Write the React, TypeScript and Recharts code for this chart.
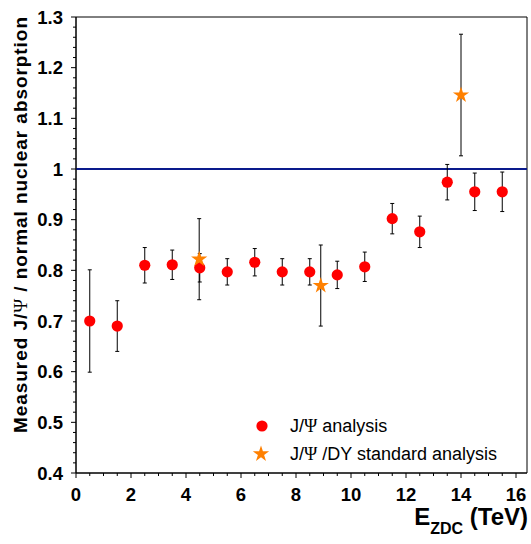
import React from 'react';
import {
  ScatterChart,
  Scatter,
  XAxis,
  YAxis,
  ErrorBar,
  ReferenceLine,
  ReferenceArea,
  Customized,
  Symbols,
} from 'recharts';

// ---------- data ----------
const eBins = [0.5, 1.5, 2.5, 3.5, 4.5, 5.5, 6.5, 7.5, 8.5, 9.5, 10.5, 11.5, 12.5, 13.5, 14.5, 15.5];
const jpsiRatio = [0.700, 0.690, 0.810, 0.811, 0.805, 0.797, 0.816, 0.797, 0.797, 0.791, 0.807, 0.902, 0.876, 0.974, 0.955, 0.955];
const jpsiErr = [0.101, 0.050, 0.035, 0.029, 0.028, 0.026, 0.027, 0.026, 0.026, 0.027, 0.029, 0.030, 0.031, 0.035, 0.037, 0.039];

const dyE = [4.48, 8.9, 14.0];
const dyRatio = [0.822, 0.770, 1.146];
const dyErr = [0.080, 0.080, 0.120];

const xMajorTicks = [0, 2, 4, 6, 8, 10, 12, 14, 16];
const yMajorTicks = [0.4, 0.5, 0.6, 0.7, 0.8, 0.9, 1.0, 1.1, 1.2, 1.3];
const xDomain = [0, 16.4];
const yDomain = [0.4, 1.3];
const xMinorStep = 0.5;
const yMinorStep = 0.02;

const seriesNames = ['J/Ψ analysis', 'J/Ψ /DY standard analysis'];
const xTitle = { main: 'E', sub: 'ZDC', unit: ' (TeV)' };
const yTitle = ['Measured J/', 'Ψ', ' / normal nuclear absorption'];

// ---------- derived tables ----------
const jpsiData = eBins.map((x, i) => ({ x, y: jpsiRatio[i], err: jpsiErr[i] }));
const dyData = dyE.map((x, i) => ({ x, y: dyRatio[i], err: dyErr[i] }));

const xTicks: number[] = [];
for (let i = 0; i * xMinorStep <= xMajorTicks[xMajorTicks.length - 1] + 1e-9; i++) {
  xTicks.push(Math.round(i * xMinorStep * 100) / 100);
}
const yTicks: number[] = [];
for (let i = 0; yDomain[0] + i * yMinorStep <= yDomain[1] + 1e-9; i++) {
  yTicks.push(Math.round((yDomain[0] + i * yMinorStep) * 1000) / 1000);
}

const isMajor = (v: number, majors: number[]) => majors.some((m) => Math.abs(m - v) < 1e-6);

// ---------- styles ----------
const FONT = '"Liberation Sans", Arial, Helvetica, sans-serif';
const SERIF = '"Liberation Serif", "Times New Roman", serif';
const RED = '#ff0000';
const ORANGE = '#ff8000';
const NAVY = '#0a1a8c';
const DOT_R = 5.6;
const STAR_SIZE = 82;

const XTick = (props: any) => {
  const { x, y, payload } = props;
  const v = payload.value as number;
  const major = isMajor(v, xMajorTicks);
  return (
    <g>
      <line x1={x} x2={x} y1={y} y2={y + (major ? 5 : 3)} stroke="#000" strokeWidth={1} />
      {major && (
        <text x={x} y={y + 28} textAnchor="middle" fontFamily={FONT} fontWeight="bold" fontSize={18.5} fill="#000">
          {String(v)}
        </text>
      )}
    </g>
  );
};

const YTick = (props: any) => {
  const { x, y, payload } = props;
  const v = payload.value as number;
  const major = isMajor(v, yMajorTicks);
  return (
    <g>
      <line x1={x - (major ? 5 : 3)} x2={x} y1={y} y2={y} stroke="#000" strokeWidth={1} />
      {major && (
        <text x={x - 13} y={y} dy="0.36em" textAnchor="end" fontFamily={FONT} fontWeight="bold" fontSize={18.5} fill="#000">
          {String(Number(v.toFixed(1)))}
        </text>
      )}
    </g>
  );
};

const RedDot = (p: any) => <circle cx={p.cx} cy={p.cy} r={DOT_R} fill={RED} />;
const OrangeStar = (p: any) => <Symbols cx={p.cx} cy={p.cy} type="star" size={STAR_SIZE} fill={ORANGE} />;

const Psi = () => <tspan fontFamily={SERIF}>Ψ</tspan>;

const Overlay = () => (
  <g>
    {/* legend */}
    <circle cx={262} cy={426} r={DOT_R} fill={RED} />
    <text x={290} y={432} fontFamily={FONT} fontSize={18} fill="#000">
      {seriesNames[0].split('Ψ')[0]}
      <Psi />
      {seriesNames[0].split('Ψ')[1]}
    </text>
    <Symbols cx={261} cy={454} type="star" size={STAR_SIZE} fill={ORANGE} />
    <text x={290} y={460} fontFamily={FONT} fontSize={18} fill="#000">
      {seriesNames[1].split('Ψ')[0]}
      <Psi />
      {seriesNames[1].split('Ψ')[1]}
    </text>
    {/* x title */}
    <text x={528} y={525} textAnchor="end" fontFamily={FONT} fontWeight="bold" fontSize={24} fill="#000">
      {xTitle.main}
      <tspan fontSize={16} dy={9}>{xTitle.sub}</tspan>
      <tspan dy={-9}>{xTitle.unit}</tspan>
    </text>
    {/* y title */}
    <text
      transform="translate(27,225) rotate(-90)"
      textAnchor="middle"
      fontFamily={FONT}
      fontWeight="bold"
      fontSize={19}
      fill="#000"
      textLength={416}
      lengthAdjust="spacing"
    >
      {yTitle[0]}
      <tspan fontFamily={SERIF} fontWeight="normal">{yTitle[1]}</tspan>
      {yTitle[2]}
    </text>
  </g>
);

export default function App() {
  return (
    <div style={{ width: 531, height: 544, background: '#fff' }}>
      <style>{'body{margin:0;background:#fff;}'}</style>
      <ScatterChart width={531} height={544} margin={{ top: 17, right: 4, bottom: 0, left: 0 }}>
        <XAxis
          type="number"
          dataKey="x"
          domain={xDomain}
          ticks={xTicks}
          interval={0}
          tick={<XTick />}
          tickLine={false}
          tickSize={0}
          tickMargin={0}
          height={71}
          axisLine={{ stroke: '#000', strokeWidth: 1 }}
          allowDataOverflow
        />
        <YAxis
          type="number"
          dataKey="y"
          domain={yDomain}
          ticks={yTicks}
          interval={0}
          tick={<YTick />}
          tickLine={false}
          tickSize={0}
          tickMargin={0}
          width={76}
          axisLine={{ stroke: '#000', strokeWidth: 1 }}
          allowDataOverflow
        />
        <ReferenceArea
          x1={xDomain[0]}
          x2={xDomain[1]}
          y1={yDomain[0]}
          y2={yDomain[1]}
          fill="none"
          fillOpacity={0}
          stroke="#000"
          strokeWidth={1}
          ifOverflow="visible"
        />
        <ReferenceLine y={1} stroke={NAVY} strokeWidth={2} />
        <Scatter data={jpsiData} shape={<RedDot />} isAnimationActive={false}>
          <ErrorBar dataKey="err" direction="y" width={2} stroke="#000" strokeWidth={1} />
        </Scatter>
        <Scatter data={dyData} shape={<OrangeStar />} isAnimationActive={false}>
          <ErrorBar dataKey="err" direction="y" width={2} stroke="#000" strokeWidth={1} />
        </Scatter>
        <Customized component={Overlay} />
      </ScatterChart>
    </div>
  );
}
